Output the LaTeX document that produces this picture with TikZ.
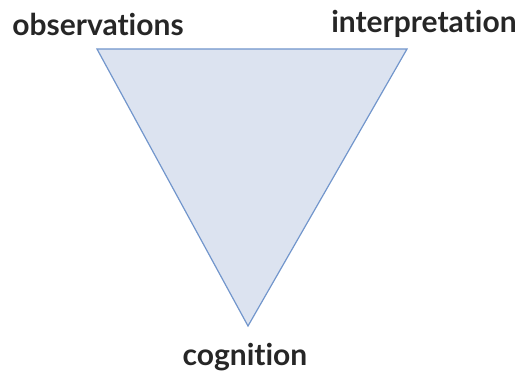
\documentclass[tikz,border=0pt]{standalone}
\usepackage{fontspec}
\setmainfont[RawFeature=-liga]{Lato}
\usetikzlibrary{calc}
\definecolor{trifill}{RGB}{220,227,240}
\definecolor{triline}{RGB}{114,150,204}
\tikzset{label text/.style = {font=\bfseries\fontsize{15}{17}\selectfont, text=black!85, inner sep=0pt}}

\begin{document}
\begin{tikzpicture}[x=0.5pt, y=-0.5pt]
\useasboundingbox (0,0) rectangle (525,374);
\coordinate (O) at (97,49);
\coordinate (I) at (407,49);
\coordinate (C) at (248,326);
\draw[triline, fill=trifill, line width=0.6pt] (O) -- (I) -- (C) -- cycle;
\node[label text] (obs) at (98,24) {observations};
\node[label text] (int) at (424,24) {interpretation};
\node[label text] (cog) at (245,357) {cognition};
\end{tikzpicture}
\end{document}
